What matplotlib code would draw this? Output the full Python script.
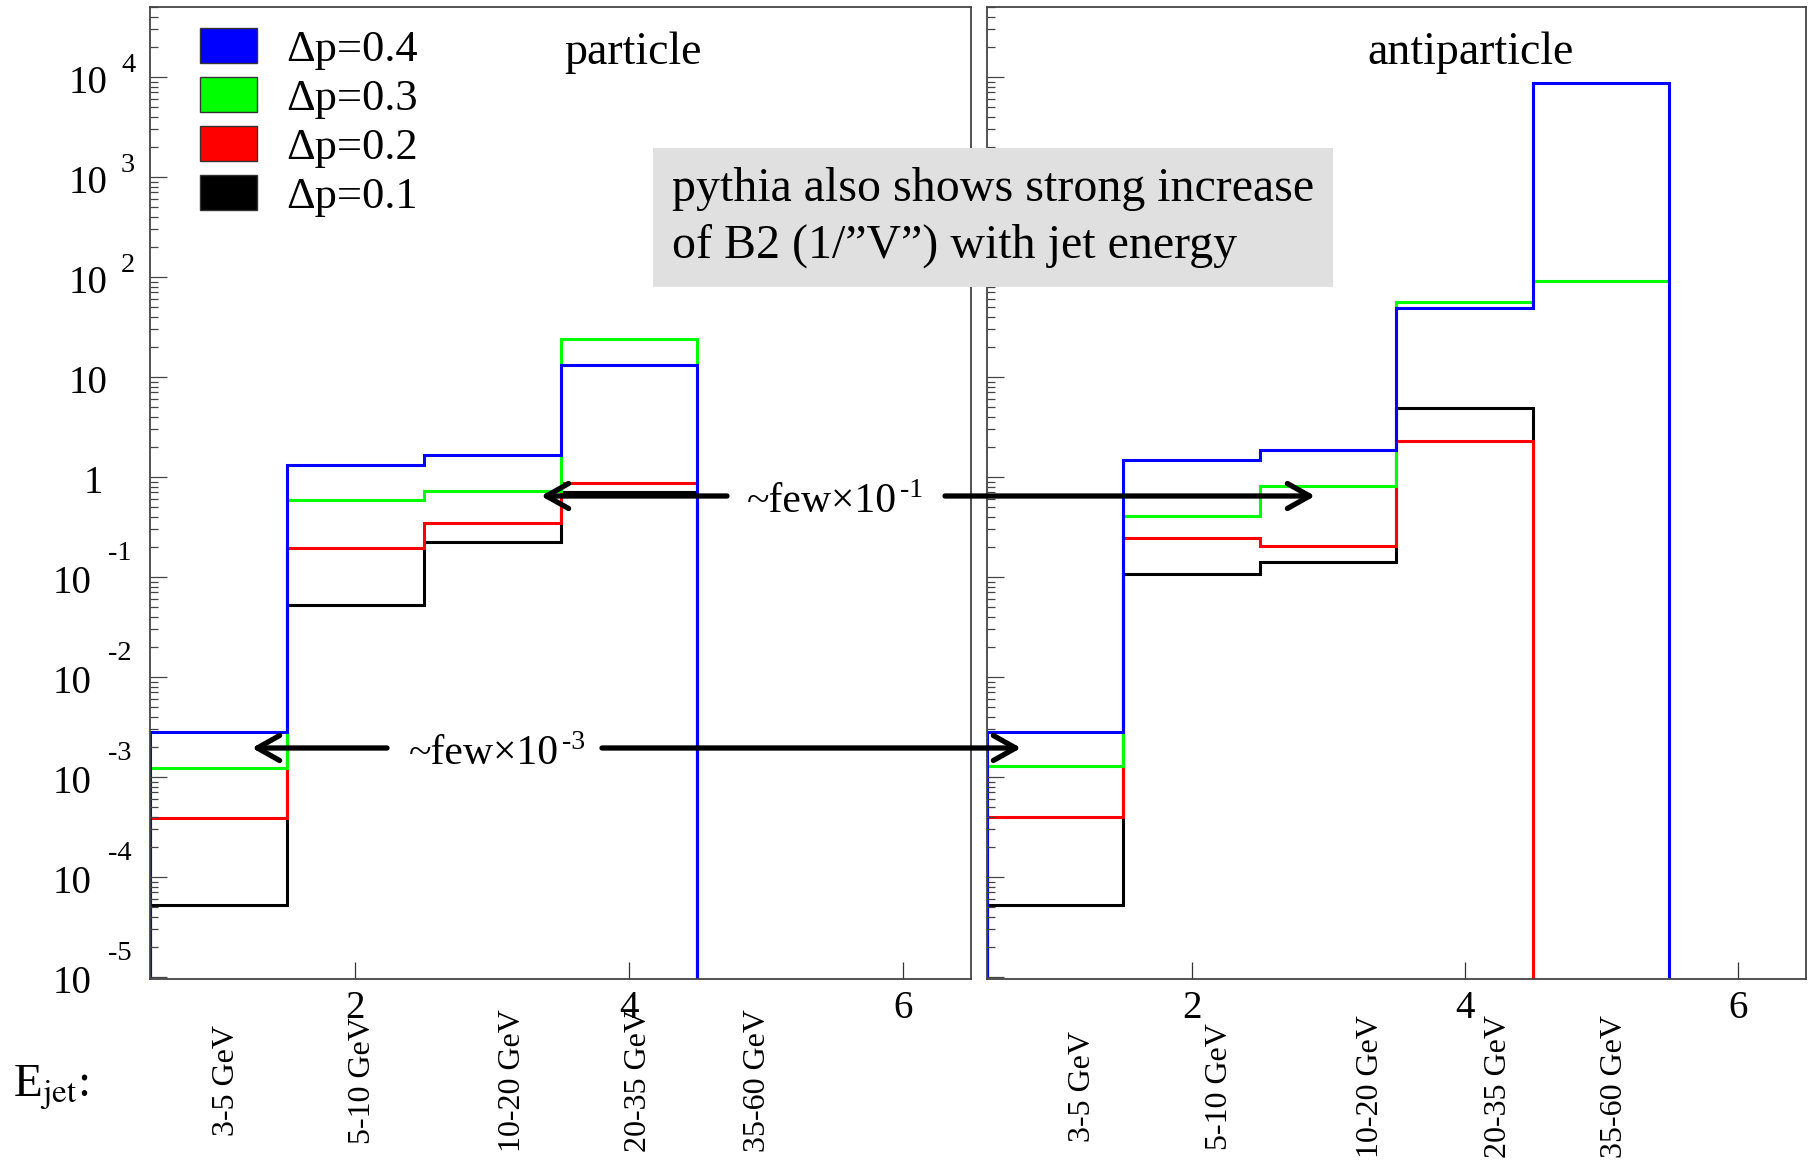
"""ROOT-style B2 vs jet-energy histograms (particle / antiparticle), recreated with matplotlib."""
import matplotlib
matplotlib.use("Agg")
import matplotlib.pyplot as plt
import numpy as np
from matplotlib.patches import Patch, FancyArrowPatch
from matplotlib.ticker import LogLocator, NullFormatter, FixedLocator
from matplotlib.transforms import blended_transform_factory

plt.rcParams["font.family"] = ["Liberation Serif", "DejaVu Serif"]
plt.rcParams["mathtext.fontset"] = "stix"

# ---- data (bins 1..6, centred on integers) ----
BIN_EDGES = [0.5, 1.5, 2.5, 3.5, 4.5, 5.5, 6.5]
EJET_BINS = ["3-5 GeV", "5-10 GeV", "10-20 GeV", "20-35 GeV", "35-60 GeV"]
DP_LABELS = ["\u0394p=0.4", "\u0394p=0.3", "\u0394p=0.2", "\u0394p=0.1"]

particle_dp04 = [2.8e-3, 1.33, 1.65, 13.2, 0, 0]
particle_dp03 = [1.23e-3, 0.59, 0.72, 24.2, 0, 0]
particle_dp02 = [3.9e-4, 0.196, 0.35, 0.87, 0, 0]
particle_dp01 = [5.3e-5, 0.0526, 0.224, 0.70, 0, 0]

anti_dp04 = [2.85e-3, 1.48, 1.87, 49.5, 8700, 0]
anti_dp03 = [1.29e-3, 0.41, 0.82, 56.7, 91.5, 0]
anti_dp02 = [4.0e-4, 0.243, 0.205, 2.31, 0, 0]
anti_dp01 = [5.25e-5, 0.106, 0.142, 4.88, 0, 0]

X_TICKS = [2, 4, 6]
Y_EXPONENTS = list(range(-5, 5))

# label x positions (data units) under each panel, as placed on the slide
LABEL_X_PARTICLE = [1.06, 2.05, 3.15, 4.07, 4.94]
LABEL_X_ANTI = [1.20, 2.20, 3.31, 4.25, 5.10]

COLORS = {"0.4": "#0000ff", "0.3": "#00ff00", "0.2": "#ff0000", "0.1": "#000000"}

W, H = 1812, 1162
FLOOR = 1e-9


def px_rect(x0, y0, x1, y1):
    return [x0 / W, 1 - y1 / H, (x1 - x0) / W, (y1 - y0) / H]


def fx(x):
    return x / W


def fy(y):
    return 1 - y / H


fig = plt.figure(figsize=(W / 100, H / 100), dpi=100)
axL = fig.add_axes(px_rect(150, 7, 971, 979))
axR = fig.add_axes(px_rect(987, 7, 1806, 979))


def style(ax):
    ax.set_yscale("log")
    ax.set_xlim(0.5, 6.5)
    ax.set_ylim(10 ** -5.02, 10 ** 4.70)
    ax.xaxis.set_major_locator(FixedLocator(X_TICKS))
    ax.set_xticks(X_TICKS, [str(t) for t in X_TICKS])
    ax.tick_params(axis="x", which="major", direction="in", length=12, width=0.9,
                   color="#333", labelsize=28, pad=8, top=False)
    ax.tick_params(axis="x", which="minor", bottom=False, top=False)
    ax.yaxis.set_major_locator(LogLocator(base=10, numticks=30))
    ax.yaxis.set_minor_locator(LogLocator(base=10, subs=np.arange(2, 10), numticks=200))
    ax.yaxis.set_major_formatter(NullFormatter())
    ax.yaxis.set_minor_formatter(NullFormatter())
    ax.tick_params(axis="y", which="major", direction="in", length=12.5, width=0.9,
                   color="#444", right=False)
    ax.tick_params(axis="y", which="minor", direction="in", length=6, width=0.9,
                   color="#444", right=False)
    for s in ax.spines.values():
        s.set_color("#444")
        s.set_linewidth(1.3)


def draw_hists(ax, series):
    # ROOT draw order: black, red, green, blue on top
    for key, vals in series:
        v = np.where(np.asarray(vals, float) > 0, vals, FLOOR)
        ax.stairs(v, BIN_EDGES, baseline=FLOOR, color=COLORS[key], lw=2.2)


style(axL)
style(axR)
draw_hists(axL, [("0.1", particle_dp01), ("0.2", particle_dp02),
                 ("0.3", particle_dp03), ("0.4", particle_dp04)])
draw_hists(axR, [("0.1", anti_dp01), ("0.2", anti_dp02),
                 ("0.3", anti_dp03), ("0.4", anti_dp04)])

# ROOT-like y labels: "10" with a raised exponent
ytr = axL.get_yaxis_transform()
for e in Y_EXPONENTS:
    y = 10.0 ** e
    if e == 0:
        axL.annotate("1", (0, y), xycoords=ytr, xytext=(-47, -16), textcoords="offset pixels",
                     ha="right", va="baseline", fontsize=28)
    elif e == 1:
        axL.annotate("10", (0, y), xycoords=ytr, xytext=(-43, -16), textcoords="offset pixels",
                     ha="right", va="baseline", fontsize=28)
    elif e > 1:
        axL.annotate("10", (0, y), xycoords=ytr, xytext=(-43, -16), textcoords="offset pixels",
                     ha="right", va="baseline", fontsize=28)
        axL.annotate(str(e), (0, y), xycoords=ytr, xytext=(-29, 5), textcoords="offset pixels",
                     ha="left", va="baseline", fontsize=20.5)
    else:
        axL.annotate("10", (0, y), xycoords=ytr, xytext=(-58, -16), textcoords="offset pixels",
                     ha="right", va="baseline", fontsize=28)
        axL.annotate(str(e), (0, y), xycoords=ytr, xytext=(-42, 17), textcoords="offset pixels",
                     ha="left", va="baseline", fontsize=20.5)

# legend
handles = [Patch(facecolor=COLORS[k], edgecolor="#333", lw=1) for k in ["0.4", "0.3", "0.2", "0.1"]]
axL.legend(handles, DP_LABELS, loc="upper left", bbox_to_anchor=(0.061, 0.978),
           frameon=False, fontsize=32, handlelength=1.28, handleheight=0.83,
           handletextpad=0.66, labelspacing=0.16, borderpad=0, borderaxespad=0)

axL.text(0.588, 0.953, "particle", transform=axL.transAxes, ha="center", va="center", fontsize=33)
axR.text(0.590, 0.953, "antiparticle", transform=axR.transAxes, ha="center", va="center", fontsize=33)

# rotated jet-energy bin labels under the axes
for ax, xs, yc in [(axL, LABEL_X_PARTICLE, 1081), (axR, LABEL_X_ANTI, 1087)]:
    tr = blended_transform_factory(ax.transData, fig.transFigure)
    for xv, lab in zip(xs, EJET_BINS):
        ax.text(xv, fy(yc), lab, transform=tr, rotation=90, ha="center", va="center",
                fontsize=23, clip_on=False)

fig.text(fx(13), fy(1088), r"E$_{\mathrm{jet}}$:", ha="left", va="center", fontsize=34)

# grey comment box
fig.text(fx(672), fy(217.5),
         "pythia also shows strong increase\nof B2 (1/\u201dV\u201d) with jet energy",
         ha="left", va="center", fontsize=34.5, linespacing=1.36,
         bbox=dict(boxstyle="square,pad=0.40", fc="#e0e0e0", ec="none"))

# "~few x 10^n" annotations with arrows (exponent set as a separate raised text, ROOT style)
fig.text(fx(747), fy(512), "~few\u00d710", ha="left", va="baseline", fontsize=30)
fig.text(fx(900), fy(497), "-1", ha="left", va="baseline", fontsize=20)
fig.text(fx(409), fy(764), "~few\u00d710", ha="left", va="baseline", fontsize=30)
fig.text(fx(562), fy(749), "-3", ha="left", va="baseline", fontsize=20)

ARROWS = [((727, 496), (541, 496)), ((945, 496), (1315, 496)),
          ((387, 748), (252, 748)), ((602, 748), (1021, 748))]
for (x0, y0), (x1, y1) in ARROWS:
    fig.add_artist(FancyArrowPatch((fx(x0), fy(y0)), (fx(x1), fy(y1)),
                                   transform=fig.transFigure,
                                   arrowstyle="->,head_length=0.8,head_width=0.45",
                                   mutation_scale=20, lw=3.8, color="black",
                                   shrinkA=0, shrinkB=0))

fig.savefig("out.png", dpi=100)
